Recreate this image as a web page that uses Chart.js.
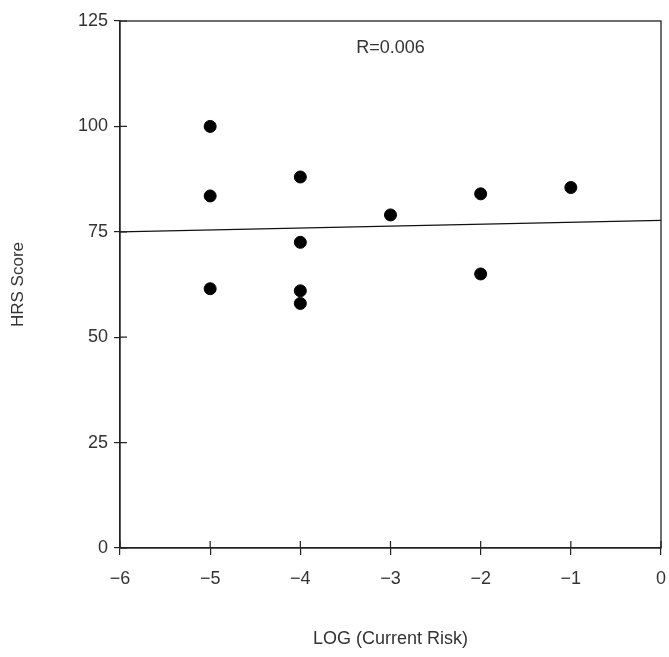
<!DOCTYPE html>
<html><head><meta charset="utf-8">
<script src="https://cdn.jsdelivr.net/npm/chart.js@4"></script>
<style>html,body{margin:0;padding:0;background:#fff;}#wrap{width:669px;height:657px;}</style>
</head><body><div id="wrap"><canvas id="c" width="669" height="657"></canvas></div>
<script>
const logRisk = [-5, -5, -5, -4, -4, -4, -4, -3, -2, -2, -1];
const hrsScore = [100, 83.5, 61.5, 88, 72.5, 61, 58, 79, 84, 65, 85.5];
const fitX = [-6, 0];
const fitY = [75.0, 77.7];
const xTicks = [-6, -5, -4, -3, -2, -1, 0];
const yTicks = [0, 25, 50, 75, 100, 125];
const annotationText = 'R=0.006';
const annotationPos = [-3, 118.5];

const FONT = '"Liberation Sans", Arial, sans-serif';

const framePlugin = {
  id: 'frame',
  afterDraw(chart) {
    const {ctx, chartArea: a, scales} = chart;
    ctx.save();
    ctx.strokeStyle = '#222';
    ctx.lineWidth = 1.3;
    ctx.strokeRect(a.left, a.top, a.right - a.left, a.bottom - a.top);
    ctx.lineWidth = 1.2;
    ctx.beginPath();
    xTicks.forEach(v => { const px = scales.x.getPixelForValue(v); ctx.moveTo(px, a.bottom); ctx.lineTo(px, a.bottom - 7); });
    yTicks.forEach(v => { const py = scales.y.getPixelForValue(v); ctx.moveTo(a.left, py); ctx.lineTo(a.left + 7, py); });
    ctx.stroke();
    ctx.fillStyle = '#333';
    ctx.font = '18px ' + FONT;
    ctx.textAlign = 'center';
    ctx.textBaseline = 'middle';
    ctx.fillText(annotationText, scales.x.getPixelForValue(annotationPos[0]), scales.y.getPixelForValue(annotationPos[1]));
    ctx.restore();
  }
};

new Chart(document.getElementById('c'), {
  type: 'scatter',
  data: {
    datasets: [
      {
        label: 'HRS Score',
        data: logRisk.map((x, i) => ({x, y: hrsScore[i]})),
        backgroundColor: '#000',
        borderColor: '#000',
        pointRadius: 6,
        pointHoverRadius: 6
      },
      {
        label: 'Fit',
        type: 'line',
        data: fitX.map((x, i) => ({x, y: fitY[i]})),
        borderColor: '#111',
        borderWidth: 1.3,
        pointRadius: 0,
        fill: false
      }
    ]
  },
  options: {
    responsive: false,
    animation: false,
    devicePixelRatio: 1,
    layout: {padding: {top: 21, right: 8, left: 0, bottom: 0}},
    plugins: {legend: {display: false}, tooltip: {enabled: false}},
    scales: {
      x: {
        type: 'linear', min: -6, max: 0,
        afterBuildTicks(s) { s.ticks = xTicks.map(v => ({value: v})); },
        afterFit(s) { s.height = 109; s.paddingLeft = 0; s.paddingRight = 0; },
        grid: {drawOnChartArea: false, drawTicks: true, tickLength: 7, color: '#222', lineWidth: 1.2},
        border: {display: true, color: '#222', width: 1.3},
        ticks: {color: '#333', font: {family: FONT, size: 18}, padding: 13, callback: v => v < 0 ? '\u2212' + Math.abs(v) : String(v)},
        title: {display: true, text: 'LOG (Current Risk)', color: '#333', font: {family: FONT, size: 18}, padding: {top: 0, bottom: 7}}
      },
      y: {
        type: 'linear', min: 0, max: 125,
        afterBuildTicks(s) { s.ticks = yTicks.map(v => ({value: v})); },
        afterFit(s) { s.width = 120; },
        grid: {drawOnChartArea: false, drawTicks: true, tickLength: 6, color: '#222', lineWidth: 1.2},
        border: {display: true, color: '#222', width: 1.3},
        ticks: {color: '#333', font: {family: FONT, size: 18}, padding: 6},
        title: {display: true, text: 'HRS Score', color: '#333', font: {family: FONT, size: 17}, padding: {top: 8, bottom: 0}}
      }
    }
  },
  plugins: [framePlugin]
});
</script>
</body></html>
